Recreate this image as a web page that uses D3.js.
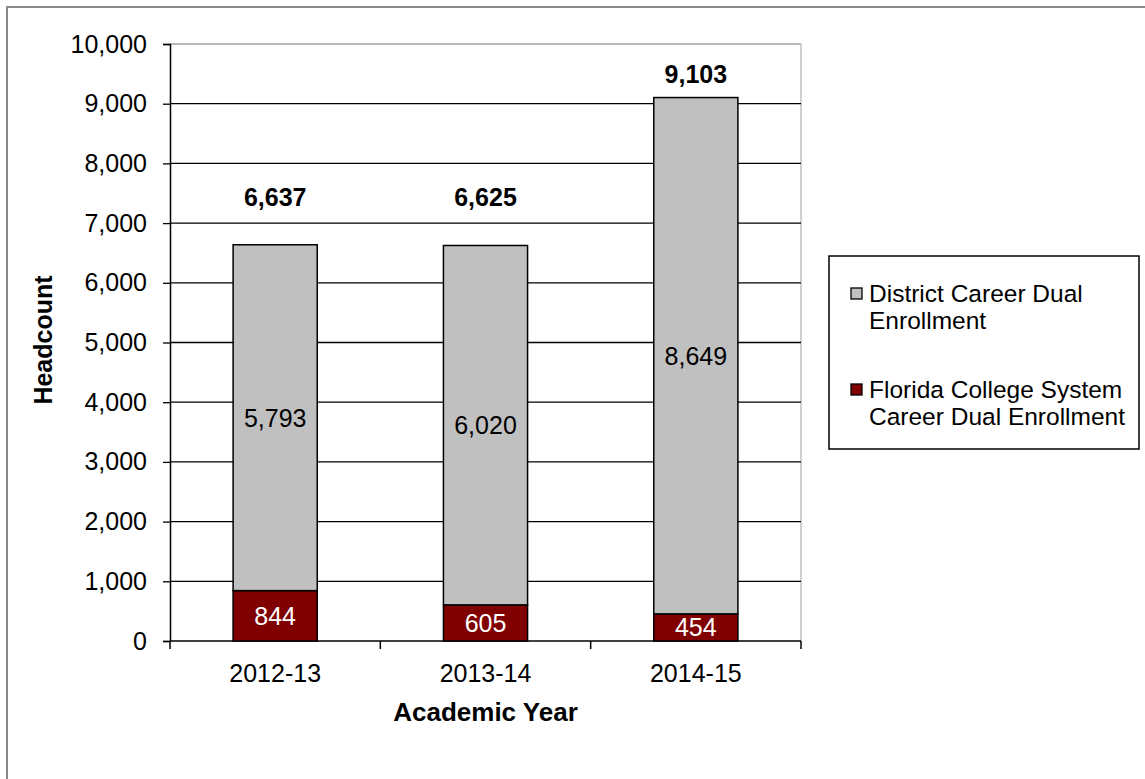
<!DOCTYPE html>
<html><head><meta charset="utf-8">
<script src="https://cdn.jsdelivr.net/npm/d3@7"></script>
<style>body{margin:0;background:#fff}svg{display:block;font-family:"Liberation Sans",Arial,sans-serif}</style>
</head><body>
<script>
const categories = ["2012-13", "2013-14", "2014-15"];
const floridaCollege = [844, 605, 454];
const districtCareer = [5793, 6020, 8649];
const totals = [6637, 6625, 9103];
const yTicks = [0,1000,2000,3000,4000,5000,6000,7000,8000,9000,10000];
const seriesNames = ["District Career Dual Enrollment", "Florida College System Career Dual Enrollment"];
const seriesColors = ["#C0C0C0", "#800000"];

const W = 1145, H = 779;
const FS = 25;
const svg = d3.select("body").append("svg").attr("width", W).attr("height", H);

// outer frame
svg.append("rect").attr("x", 7).attr("y", 7).attr("width", W + 20).attr("height", H + 20)
  .attr("fill", "none").attr("stroke", "#888").attr("stroke-width", 2);

const L = 170, R = 801, T = 44, B = 641;
const x = d3.scaleBand().domain(categories).range([L, R]).paddingInner(0.6).paddingOuter(0.3);
const xb = d3.scaleBand().domain(categories).range([L, R]);
const y = d3.scaleLinear().domain([0, 10000]).range([B, T]);

// plot area border (gray top/right)
svg.append("line").attr("x1", L).attr("x2", R).attr("y1", T).attr("y2", T).attr("stroke", "#a0a0a0").attr("stroke-width", 1.5);
svg.append("line").attr("x1", R).attr("x2", R).attr("y1", T).attr("y2", B).attr("stroke", "#c0c0c0").attr("stroke-width", 1.5);

// gridlines
svg.append("g").selectAll("line").data(yTicks.filter(d => d > 0 && d < 10000)).join("line")
  .attr("x1", L).attr("x2", R).attr("y1", d => y(d)).attr("y2", d => y(d))
  .attr("stroke", "#000").attr("stroke-width", 1.3);

// y axis
const yAxis = svg.append("g").attr("transform", `translate(${L},0)`)
  .call(d3.axisLeft(y).tickValues(yTicks).tickFormat(d3.format(",")).tickSize(7).tickPadding(16));
yAxis.select(".domain").attr("stroke", "#000").attr("stroke-width", 1.5);
yAxis.selectAll("line").attr("stroke", "#000").attr("stroke-width", 1.3);
yAxis.selectAll("text").attr("font-size", FS).attr("fill", "#000").attr("font-family", "Liberation Sans, Arial, sans-serif");

// x axis
const xAxis = svg.append("g").attr("transform", `translate(0,${B})`);
xAxis.append("line").attr("x1", L).attr("x2", R).attr("stroke", "#000").attr("stroke-width", 1.5);
const bounds = [L].concat(categories.map(c => xb(c) + xb.bandwidth()));
xAxis.selectAll("line.tk").data(bounds).join("line").attr("class", "tk")
  .attr("x1", d => d).attr("x2", d => d).attr("y1", 0).attr("y2", 8).attr("stroke", "#000").attr("stroke-width", 1.5);
xAxis.selectAll("text").data(categories).join("text")
  .attr("x", d => xb(d) + xb.bandwidth() / 2).attr("y", 41)
  .attr("text-anchor", "middle").attr("font-size", FS).text(d => d);

// bars
const stackData = categories.map((c, i) => ({ c, f: floridaCollege[i], d: districtCareer[i], t: totals[i] }));
const bars = svg.append("g");
bars.selectAll("rect.f").data(stackData).join("rect").attr("class", "f")
  .attr("x", d => x(d.c)).attr("width", x.bandwidth())
  .attr("y", d => y(d.f)).attr("height", d => y(0) - y(d.f))
  .attr("fill", seriesColors[1]).attr("stroke", "#000").attr("stroke-width", 1.5);
bars.selectAll("rect.d").data(stackData).join("rect").attr("class", "d")
  .attr("x", d => x(d.c)).attr("width", x.bandwidth())
  .attr("y", d => y(d.f + d.d)).attr("height", d => y(d.f) - y(d.f + d.d))
  .attr("fill", seriesColors[0]).attr("stroke", "#000").attr("stroke-width", 1.5);

// segment labels
const fmt = d3.format(",");
bars.selectAll("text.f").data(stackData).join("text").attr("class", "f")
  .attr("x", d => x(d.c) + x.bandwidth() / 2).attr("y", d => y(d.f / 2))
  .attr("dy", "0.36em").attr("text-anchor", "middle").attr("font-size", FS).attr("fill", "#fff")
  .text(d => fmt(d.f));
bars.selectAll("text.d").data(stackData).join("text").attr("class", "d")
  .attr("x", d => x(d.c) + x.bandwidth() / 2).attr("y", d => y(d.f + d.d / 2))
  .attr("dy", "0.36em").attr("text-anchor", "middle").attr("font-size", FS).attr("fill", "#000")
  .text(d => fmt(d.d));
// totals
bars.selectAll("text.t").data(stackData).join("text").attr("class", "t")
  .attr("x", d => x(d.c) + x.bandwidth() / 2).attr("y", d => Math.max(y(d.t) - 48, T + 30))
  .attr("dy", "0.36em").attr("text-anchor", "middle").attr("font-size", FS).attr("font-weight", "bold")
  .text(d => fmt(d.t));

// axis titles
svg.append("text").attr("transform", `translate(52,340) rotate(-90)`).attr("text-anchor", "middle")
  .attr("font-size", FS).attr("font-weight", "bold").text("Headcount");
svg.append("text").attr("x", (L + R) / 2).attr("y", 721).attr("text-anchor", "middle")
  .attr("font-size", 26).attr("font-weight", "bold").text("Academic Year");

// legend
const lg = svg.append("g");
lg.append("rect").attr("x", 829).attr("y", 256).attr("width", 310).attr("height", 193)
  .attr("fill", "#fff").attr("stroke", "#000").attr("stroke-width", 1.5);
const legendLines = [["District Career Dual", "Enrollment"], ["Florida College System", "Career Dual Enrollment"]];
const legendY = [302, 398];
legendLines.forEach((lines, i) => {
  lg.append("rect").attr("x", 851).attr("y", legendY[i] - 14).attr("width", 11).attr("height", 11)
    .attr("fill", seriesColors[i]).attr("stroke", "#000").attr("stroke-width", 1.3);
  lines.forEach((t, j) => {
    lg.append("text").attr("x", 869).attr("y", legendY[i] + j * 26.5).attr("font-size", 24.5).text(t);
  });
});
</script>
</body></html>
